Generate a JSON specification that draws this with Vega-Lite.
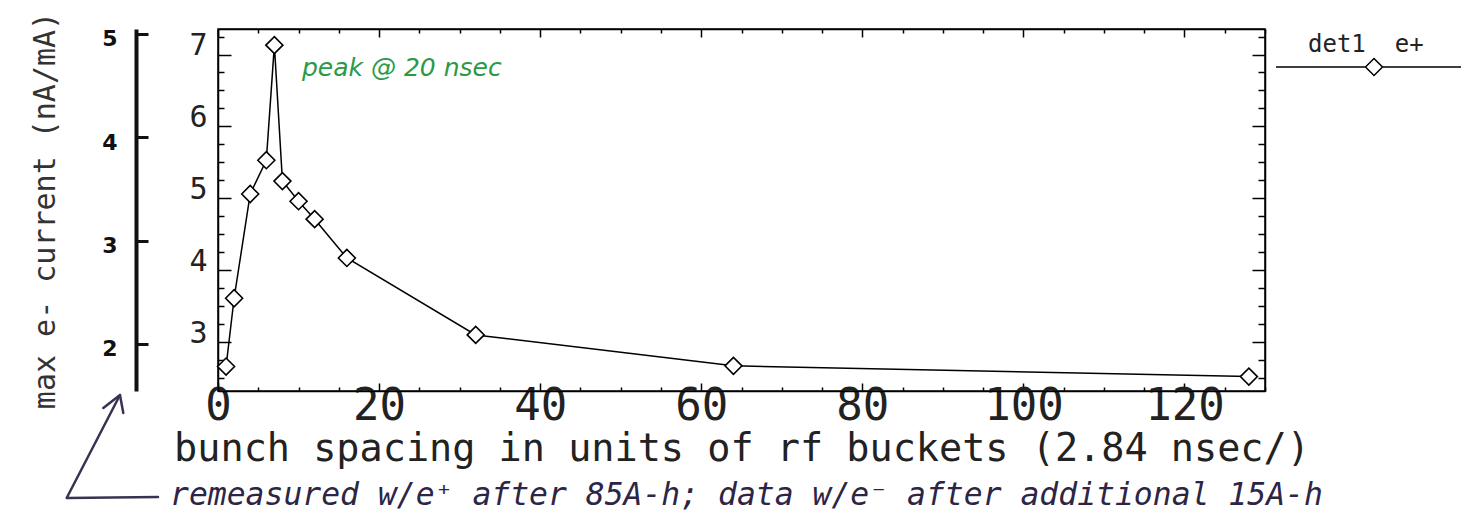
{
  "$schema": "https://vega.github.io/schema/vega-lite/v6.json",
  "width": 1047,
  "height": 362,
  "autosize": {"type": "none"},
  "padding": {"left": 218, "top": 29, "right": 196, "bottom": 125},
  "background": "white",
  "config": {
    "view": {"stroke": "black", "strokeWidth": 1.5},
    "axis": {"grid": false, "domainColor": "black", "domainWidth": 1.5, "tickColor": "black", "tickWidth": 1.5}
  },
  "datasets": {
    "main": [
      {"bunch": 1, "current": 2.66},
      {"bunch": 2, "current": 3.61},
      {"bunch": 4, "current": 5.06},
      {"bunch": 6, "current": 5.53},
      {"bunch": 7, "current": 7.13},
      {"bunch": 8, "current": 5.24},
      {"bunch": 10, "current": 4.96},
      {"bunch": 12, "current": 4.71},
      {"bunch": 16, "current": 4.17},
      {"bunch": 32, "current": 3.10},
      {"bunch": 64, "current": 2.67},
      {"bunch": 128, "current": 2.52}
    ],
    "notes": [
      {"x": 10.43, "y": 6.70, "note": "peak @ 20 nsec", "kind": "peak"},
      {"x": -5.96, "y": 0.735, "note": "remeasured w/e⁺ after 85A-h; data w/e⁻ after additional 15A-h", "kind": "remark"}
    ],
    "arrow": [
      {"x": -7.45, "y": 0.846, "part": "shaft", "seq": 1},
      {"x": -18.79, "y": 0.832, "part": "shaft", "seq": 2},
      {"x": -12.17, "y": 2.265, "part": "shaft", "seq": 3},
      {"x": -14.24, "y": 2.084, "part": "head", "seq": 1},
      {"x": -12.17, "y": 2.265, "part": "head", "seq": 2},
      {"x": -11.76, "y": 2.014, "part": "head", "seq": 3}
    ]
  },
  "resolve": {
    "scale": {"y": "independent"},
    "axis": {"x": "independent", "y": "independent"}
  },
  "layer": [
    {
      "data": {"name": "main"},
      "mark": {"type": "line", "strokeWidth": 1.5},
      "encoding": {
        "x": {
          "field": "bunch", "type": "quantitative",
          "scale": {"domain": [0, 130], "nice": false, "zero": false},
          "axis": {
            "orient": "bottom",
            "values": [0,5,10,15,20,25,30,35,40,45,50,55,60,65,70,75,80,85,90,95,100,105,110,115,120,125,130],
            "format": "d",
            "labelExpr": "datum.value % 20 === 0 && datum.value <= 120 ? datum.label : ''",
            "tickSize": {"condition": {"test": "datum.value % 20 === 0", "value": -8}, "value": -4},
            "labelFont": "DejaVu Sans Mono", "labelFontSize": 44, "labelColor": "#222",
            "labelPadding": 1, "labelFlush": false, "labelOverlap": false, "labelBound": false,
            "title": "bunch spacing in units of rf buckets (2.84 nsec/)",
            "titleFont": "DejaVu Sans Mono", "titleFontSize": 38.5, "titleFontWeight": "normal",
            "titleColor": "#222", "titlePadding": -2
          }
        },
        "y": {
          "field": "current", "type": "quantitative",
          "scale": {"domain": [2.32, 7.355], "nice": false, "zero": false},
          "axis": {
            "orient": "left",
            "values": [2.5,2.75,3,3.25,3.5,3.75,4,4.25,4.5,4.75,5,5.25,5.5,5.75,6,6.25,6.5,6.75,7,7.25],
            "labelExpr": "datum.value % 1 === 0 ? format(datum.value, 'd') : ''",
            "tickSize": {"condition": {"test": "datum.value % 1 === 0", "value": -13}, "value": -6},
            "labelFont": "DejaVu Sans Mono", "labelFontSize": 30, "labelColor": "#222",
            "labelBaseline": "alphabetic", "labelPadding": 24, "labelOverlap": false, "labelBound": false,
            "title": null
          }
        },
        "color": {
          "datum": "det1\u00a0\u00a0e+",
          "scale": {"range": ["black"]},
          "legend": {
            "orient": "none", "legendX": 1090, "legendY": 4, "padding": 0,
            "title": "det1\u00a0\u00a0e+", "titleFont": "DejaVu Sans Mono", "titleFontSize": 24,
            "titleFontWeight": "normal", "titleColor": "#222", "titleBaseline": "top", "titlePadding": -1,
            "labelExpr": "''",
            "symbolType": "M-9.8,0H-0.85M0.85,0H9M0,-0.85L0.85,0L0,0.85L-0.85,0Z",
            "symbolSize": 400, "symbolOffset": 55, "symbolStrokeWidth": 1.5,
            "symbolStrokeColor": "black", "symbolFillColor": "white"
          }
        }
      }
    },
    {
      "data": {"name": "main"},
      "mark": {"type": "point", "shape": "diamond", "size": 289, "filled": true, "fill": "white", "stroke": "black", "strokeWidth": 1.6, "opacity": 1},
      "encoding": {
        "x": {"field": "bunch", "type": "quantitative", "scale": {"domain": [0, 130], "nice": false, "zero": false}, "axis": null},
        "y": {"field": "current", "type": "quantitative", "scale": {"domain": [2.32, 7.355], "nice": false, "zero": false}, "axis": null}
      }
    },
    {
      "data": {"name": "main"},
      "mark": {"type": "point", "opacity": 0},
      "encoding": {
        "x": {
          "field": "bunch", "type": "quantitative",
          "scale": {"domain": [0, 130], "nice": false, "zero": false},
          "axis": {
            "orient": "top",
            "values": [0,5,10,15,20,25,30,35,40,45,50,55,60,65,70,75,80,85,90,95,100,105,110,115,120,125,130],
            "labels": false,
            "tickSize": {"condition": {"test": "datum.value % 20 === 0", "value": -8}, "value": -4},
            "title": null
          }
        }
      }
    },
    {
      "data": {"name": "main"},
      "mark": {"type": "point", "opacity": 0},
      "encoding": {
        "y": {
          "field": "current", "type": "quantitative",
          "scale": {"domain": [2.32, 7.355], "nice": false, "zero": false},
          "axis": {
            "orient": "right",
            "values": [2.5,2.75,3,3.25,3.5,3.75,4,4.25,4.5,4.75,5,5.25,5.5,5.75,6,6.25,6.5,6.75,7,7.25],
            "labels": false,
            "tickSize": {"condition": {"test": "datum.value % 1 === 0", "value": -13}, "value": -7},
            "title": null
          }
        }
      }
    },
    {
      "data": {"name": "main"},
      "mark": {"type": "point", "opacity": 0},
      "encoding": {
        "y": {
          "field": "current", "type": "quantitative",
          "scale": {"domain": [1.545, 5.048], "nice": false, "zero": false},
          "axis": {
            "orient": "left", "offset": 82,
            "values": [2, 2.5, 3, 3.5, 4, 4.5, 5],
            "format": "d",
            "labelExpr": "datum.value % 1 === 0 ? datum.label : ''",
            "tickSize": -12, "tickWidth": 3, "domainWidth": 4, "domainColor": "#111", "tickColor": "#111",
            "labelFont": "DejaVu Sans", "labelFontSize": 22, "labelFontWeight": "bold", "labelColor": "#111",
            "labelBaseline": "middle", "labelOffset": 5, "labelPadding": 31, "labelOverlap": false, "labelBound": false,
            "title": "max e- current (nA/mA)",
            "titleFont": "DejaVu Sans Mono", "titleFontSize": 30, "titleFontWeight": "normal",
            "titleColor": "#333", "titlePadding": 41
          }
        }
      }
    },
    {
      "data": {"name": "notes"},
      "transform": [{"filter": "datum.kind === 'peak'"}],
      "mark": {"type": "text", "align": "left", "baseline": "alphabetic", "font": "DejaVu Sans", "fontStyle": "italic", "fontSize": 25, "color": "#2a9a48", "clip": false},
      "encoding": {
        "x": {"field": "x", "type": "quantitative", "scale": {"domain": [0, 130], "nice": false, "zero": false}, "axis": null},
        "y": {"field": "y", "type": "quantitative", "scale": {"domain": [2.32, 7.355], "nice": false, "zero": false}, "axis": null},
        "text": {"field": "note"}
      }
    },
    {
      "data": {"name": "notes"},
      "transform": [{"filter": "datum.kind === 'remark'"}],
      "mark": {"type": "text", "align": "left", "baseline": "alphabetic", "font": "DejaVu Sans Mono", "fontStyle": "italic", "fontSize": 31.4, "color": "#2d2545", "clip": false},
      "encoding": {
        "x": {"field": "x", "type": "quantitative", "scale": {"domain": [0, 130], "nice": false, "zero": false}, "axis": null},
        "y": {"field": "y", "type": "quantitative", "scale": {"domain": [2.32, 7.355], "nice": false, "zero": false}, "axis": null},
        "text": {"field": "note"}
      }
    },
    {
      "data": {"name": "arrow"},
      "mark": {"type": "line", "color": "#3b3252", "strokeWidth": 2.5, "clip": false, "strokeCap": "round", "strokeJoin": "round"},
      "encoding": {
        "x": {"field": "x", "type": "quantitative", "scale": {"domain": [0, 130], "nice": false, "zero": false}, "axis": null},
        "y": {"field": "y", "type": "quantitative", "scale": {"domain": [2.32, 7.355], "nice": false, "zero": false}, "axis": null},
        "detail": {"field": "part"},
        "order": {"field": "seq"}
      }
    }
  ]
}
